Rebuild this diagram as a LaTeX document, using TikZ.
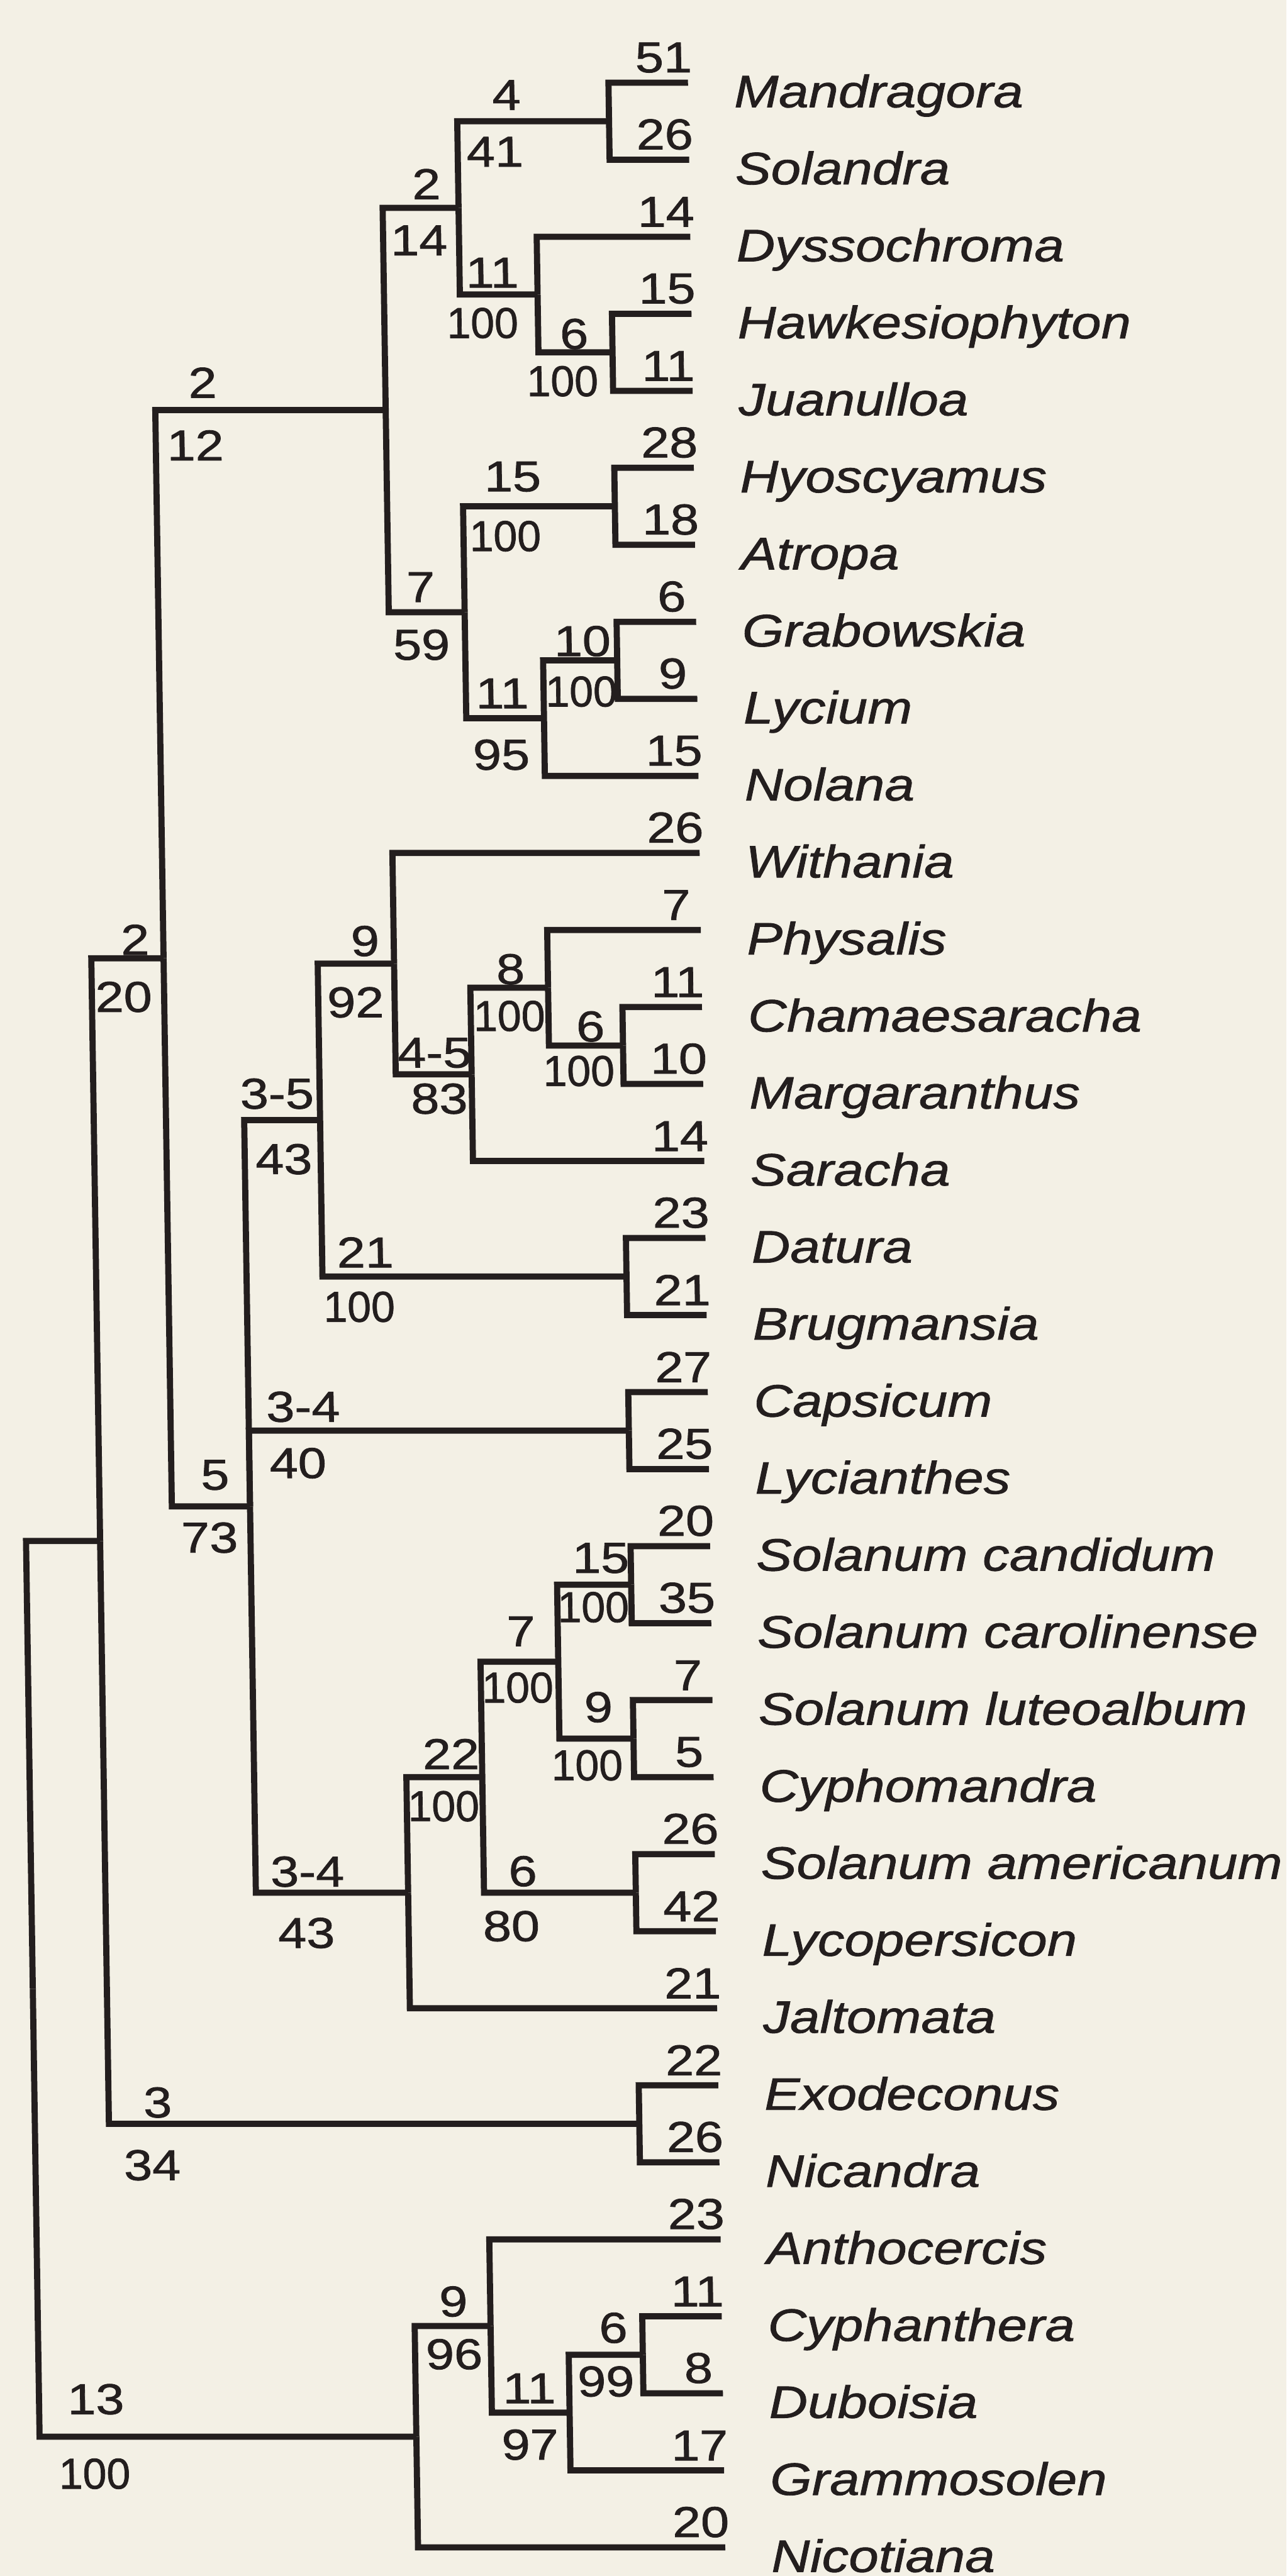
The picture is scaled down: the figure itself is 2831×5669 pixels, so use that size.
\documentclass[tikz,border=0pt]{standalone}
\usepackage{fontspec}
\usepackage{graphicx}
\newfontfamily\labfont[FakeStretch=1.18,FakeBold=1.2]{Liberation Sans}
\definecolor{bgcream}{RGB}{243,240,229}
\definecolor{ink}{RGB}{35,30,30}
\newcommand{\hund}{\scalebox{0.84}[1]{100}}
\begin{document}
\begin{tikzpicture}[x=0.1pt,y=-0.1pt,
  branch/.style={draw=ink,line width=1.35pt,line join=miter,line cap=butt},
  lab/.style={inner sep=0pt,outer sep=0pt,text=ink,font=\labfont\fontsize{9.5}{11}\selectfont},
  tipnum/.style={lab,anchor=south},
  taxon/.style={inner sep=0pt,outer sep=0pt,text=ink,anchor=base west,font=\labfont\itshape\fontsize{10}{12}\selectfont}]
\fill[bgcream] (0,0) rectangle (2831,5669);
\useasboundingbox (0,0) rectangle (2831,5669);
\begin{scope}[transform canvas={xslant=-0.01512}]
% internal nodes
\coordinate (root) at (6,4376.8);
\coordinate (A) at (169,3391.25);
\coordinate (B) at (328,2108.75);
\coordinate (N9) at (835,902.4);
\coordinate (N4) at (1002,457.4);
\coordinate (MS) at (1336,266.75);
\coordinate (N3) at (1173,648.1);
\coordinate (HJ) at (1336,775.25);
\coordinate (N5) at (1002,1347.3);
\coordinate (HA) at (1336,1114.25);
\coordinate (N8) at (1173,1580.4);
\coordinate (GL) at (1336,1453.25);
\coordinate (C) at (500,3315.1);
\coordinate (D) at (667,2465);
\coordinate (E) at (835,2120.7);
\coordinate (F) at (1002,2364.3);
\coordinate (G) at (1173,2173.6);
\coordinate (H) at (1336,2300.75);
\coordinate (DB) at (1336,2809.25);
\coordinate (CL) at (1336,3148.25);
\coordinate (N21) at (835,4165.25);
\coordinate (N22) at (1002,3911);
\coordinate (N23) at (1173,3656.75);
\coordinate (SS) at (1336,3487.25);
\coordinate (SLC) at (1336,3826.25);
\coordinate (SAL) at (1336,4165.25);
\coordinate (EN) at (1336,4673.75);
\coordinate (I) at (835,5362.35);
\coordinate (J) at (1002,5118.7);
\coordinate (K) at (1173,5309.4);
\coordinate (CD) at (1336,5182.25);
% leaves
\foreach \i/\tnum/\tname in {0/51/Mandragora,1/26/Solandra,2/14/Dyssochroma,3/15/Hawkesiophyton,4/11/Juanulloa,5/28/Hyoscyamus,6/18/Atropa,7/6/Grabowskia,8/9/Lycium,9/15/Nolana,10/26/Withania,11/7/Physalis,12/11/Chamaesaracha,13/10/Margaranthus,14/14/Saracha,15/23/Datura,16/21/Brugmansia,17/27/Capsicum,18/25/Lycianthes,19/20/Solanum candidum,20/35/Solanum carolinense,21/7/Solanum luteoalbum,22/5/Cyphomandra,23/26/Solanum americanum,24/42/Lycopersicon,25/21/Jaltomata,26/22/Exodeconus,27/26/Nicandra,28/23/Anthocercis,29/11/Cyphanthera,30/8/Duboisia,31/17/Grammosolen,32/20/Nicotiana}{
  \coordinate (t\i) at (1511,{182+169.5*\i});
  \node[tipnum] (n\i) at (1458,{160+169.5*\i}) {\tnum};
  \node[taxon] (s\i) at (1612,{236+169.5*\i}) {\tname};
}
% connectors
\foreach \p/\c in {root/A,root/I,A/B,A/EN,B/N9,B/C,N9/N4,N9/N5,N4/MS,N4/N3,MS/t0,MS/t1,N3/t2,N3/HJ,HJ/t3,HJ/t4,N5/HA,N5/N8,HA/t5,HA/t6,N8/GL,N8/t9,GL/t7,GL/t8,C/D,C/CL,C/N21,D/E,D/DB,E/t10,E/F,F/G,F/t14,G/t11,G/H,H/t12,H/t13,DB/t15,DB/t16,CL/t17,CL/t18,N21/N22,N21/t25,N22/N23,N22/SAL,N23/SS,N23/SLC,SS/t19,SS/t20,SLC/t21,SLC/t22,SAL/t23,SAL/t24,EN/t26,EN/t27,I/J,I/t32,J/t28,J/K,K/CD,K/t31,CD/t29,CD/t30}{
  \draw[branch] (\p) |- (\c);
}
% branch labels
\node[lab] (MSt) at (1111,209) {4};
\node[lab] (MSb) at (1084,334) {41};
\node[lab] (N4t) at (932,405) {2};
\node[lab] (N4b) at (914,529) {14};
\node[lab] (N3t) at (1074,600) {11};
\node[lab] (N3b) at (1051,711) {\hund};
\node[lab] (HJt) at (1252,735) {6};
\node[lab] (HJb) at (1225,839) {\hund};
\node[lab] (N9t) at (433,842) {2};
\node[lab] (N9b) at (415,980) {12};
\node[lab] (HAt) at (1112,1049) {15};
\node[lab] (HAb) at (1094,1180) {\hund};
\node[lab] (N5t) at (906,1292) {7};
\node[lab] (N5b) at (906,1419) {59};
\node[lab] (GLt) at (1260,1411) {10};
\node[lab] (GLb) at (1256,1522) {\hund};
\node[lab] (N8t) at (1082,1526) {11};
\node[lab] (N8b) at (1078,1661) {95};
\node[lab] (Bt) at (266,2068) {2};
\node[lab] (Bb) at (239,2194) {20};
\node[lab] (Et) at (772,2071) {9};
\node[lab] (Eb) at (749,2206) {92};
\node[lab] (Gt) at (1091,2133) {8};
\node[lab] (Gb) at (1087,2236) {\hund};
\node[lab] (Ht) at (1265,2259) {6};
\node[lab] (Hb) at (1238,2357) {\hund};
\node[lab] (Ft) at (921,2317) {4-5};
\node[lab] (Fb) at (930,2418) {83};
\node[lab] (Dt) at (573,2407) {3-5};
\node[lab] (Db) at (586,2551) {43};
\node[lab] (DBt) at (762,2756) {21};
\node[lab] (DBb) at (747,2876) {\hund};
\node[lab] (CLt) at (620,3096) {3-4};
\node[lab] (CLb) at (607,3220) {40};
\node[lab] (Ct) at (424,3246) {5};
\node[lab] (Cb) at (410,3384) {73};
\node[lab] (SSt) at (1270,3429) {15};
\node[lab] (SSb) at (1252,3537) {\hund};
\node[lab] (N23t) at (1092,3590) {7};
\node[lab] (N23b) at (1083,3714) {\hund};
\node[lab] (SLCt) at (1260,3757) {9};
\node[lab] (SLCb) at (1233,3885) {\hund};
\node[lab] (N22t) at (934,3860) {22};
\node[lab] (N22b) at (916,3975) {\hund};
\node[lab] (SALt) at (1088,4118) {6};
\node[lab] (SALb) at (1061,4239) {80};
\node[lab] (N21t) at (614,4119) {3-4};
\node[lab] (N21b) at (610,4254) {43};
\node[lab] (ENt) at (277,4627) {3};
\node[lab] (ENb) at (263,4765) {34};
\node[lab] (Jt) at (921,5065) {9};
\node[lab] (Jb) at (921,5181) {96};
\node[lab] (CDt) at (1272,5123) {6};
\node[lab] (CDb) at (1254,5241) {99};
\node[lab] (Kt) at (1085,5256) {11};
\node[lab] (Kb) at (1085,5380) {97};
\node[lab] (It) at (131,5280) {13};
\node[lab] (Ib) at (126,5444) {\hund};
\end{scope}
\end{tikzpicture}
\end{document}
